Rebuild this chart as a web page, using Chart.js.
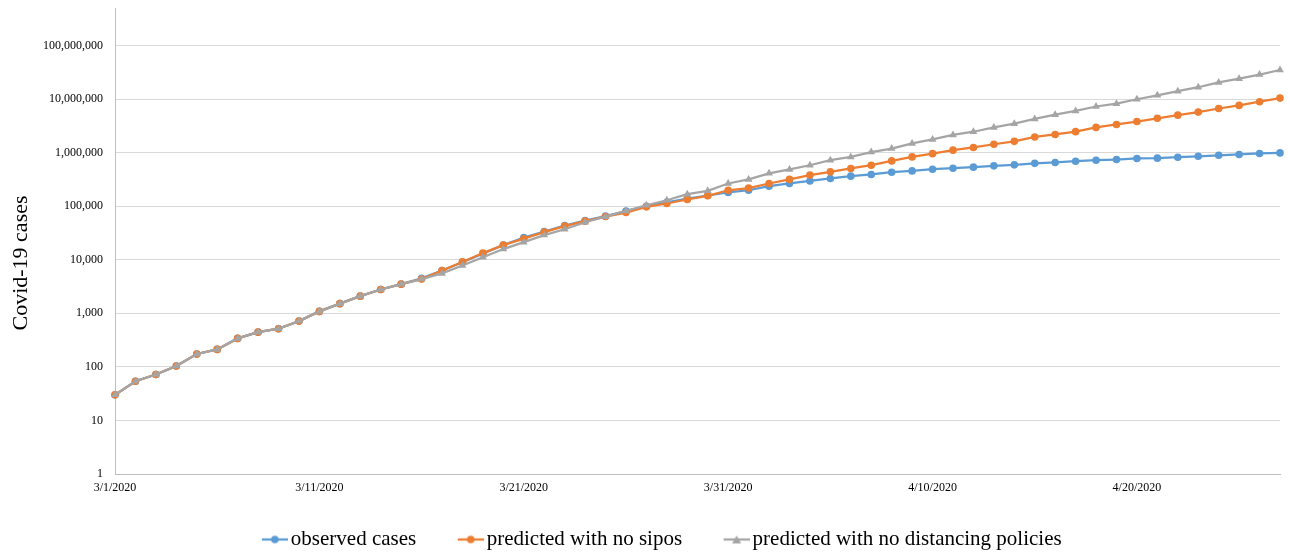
<!DOCTYPE html>
<html>
<head>
<meta charset="utf-8">
<script src="https://cdn.jsdelivr.net/npm/chart.js@4/dist/chart.umd.min.js"></script>
<style>
  html, body { margin: 0; padding: 0; background: #fff; }
  #wrap { width: 1289px; height: 552px; position: relative; }
</style>
</head>
<body>
<div id="wrap"><canvas id="casesChart"></canvas></div>
<script>
const dates = [
  '3/1/2020', '3/2/2020', '3/3/2020', '3/4/2020', '3/5/2020', '3/6/2020', '3/7/2020', '3/8/2020', '3/9/2020', '3/10/2020',
  '3/11/2020', '3/12/2020', '3/13/2020', '3/14/2020', '3/15/2020', '3/16/2020', '3/17/2020', '3/18/2020', '3/19/2020', '3/20/2020',
  '3/21/2020', '3/22/2020', '3/23/2020', '3/24/2020', '3/25/2020', '3/26/2020', '3/27/2020', '3/28/2020', '3/29/2020', '3/30/2020',
  '3/31/2020', '4/1/2020', '4/2/2020', '4/3/2020', '4/4/2020', '4/5/2020', '4/6/2020', '4/7/2020', '4/8/2020', '4/9/2020',
  '4/10/2020', '4/11/2020', '4/12/2020', '4/13/2020', '4/14/2020', '4/15/2020', '4/16/2020', '4/17/2020', '4/18/2020', '4/19/2020',
  '4/20/2020', '4/21/2020', '4/22/2020', '4/23/2020', '4/24/2020', '4/25/2020', '4/26/2020', '4/27/2020'
];

const observed = [
  30, 54, 72, 104, 174, 212, 340, 445, 515, 715,
  1085, 1515, 2090, 2785, 3500, 4500, 6300, 9000, 13000, 18800,
  25800, 33500, 43500, 53800, 65000, 81000, 99000, 118000, 138000, 158000,
  180000, 198000, 236000, 265000, 295000, 329000, 363000, 390000, 430000, 455000,
  490000, 510000, 535000, 565000, 590000, 630000, 653000, 690000, 721000, 742000,
  777000, 787000, 820000, 853000, 890000, 922000, 962000, 986000
];

const noSipo = [
  30, 54, 72, 104, 174, 212, 340, 445, 515, 715,
  1085, 1515, 2090, 2785, 3500, 4350, 6300, 9100, 13300, 18700,
  24700, 32700, 42400, 52500, 64000, 76000, 97000, 112000, 133000, 156000,
  198000, 218000, 265000, 316000, 380000, 437000, 505000, 582000, 700000, 830000,
  955000, 1110000, 1245000, 1430000, 1620000, 1960000, 2180000, 2460000, 2950000, 3350000,
  3800000, 4370000, 5000000, 5700000, 6650000, 7600000, 8900000, 10400000
];

const noDistancing = [
  30, 54, 72, 104, 174, 212, 340, 445, 515, 715,
  1085, 1515, 2090, 2785, 3500, 4350, 5550, 7800, 11100, 15800,
  21300, 28800, 37000, 50000, 63600, 81600, 104000, 129000, 167000, 193000,
  265000, 316000, 410000, 484000, 580000, 720000, 830000, 1020000, 1190000, 1480000,
  1760000, 2140000, 2450000, 2950000, 3470000, 4250000, 5100000, 6000000, 7250000, 8200000,
  9900000, 11700000, 14000000, 16600000, 20400000, 24000000, 28600000, 34800000
];

const yTicks = [1, 10, 100, 1000, 10000, 100000, 1000000, 10000000, 100000000];

const serif = "'Liberation Serif', 'Times New Roman', serif";
const yTitle = 'Covid-19 cases';

// line-with-marker swatch for the legend; the swatch sits at the right
// edge of a wider transparent image so it ends just before the label text
function legendSwatch(color, style) {
  const c = document.createElement('canvas');
  c.width = 73;
  c.height = 12;
  const g = c.getContext('2d');
  const x0 = c.width - 26;
  g.strokeStyle = color;
  g.lineWidth = 2.25;
  g.beginPath();
  g.moveTo(x0, 6);
  g.lineTo(x0 + 26, 6);
  g.stroke();
  g.fillStyle = color;
  g.beginPath();
  if (style === 'triangle') {
    g.moveTo(x0 + 13, 2);
    g.lineTo(x0 + 17.5, 10);
    g.lineTo(x0 + 8.5, 10);
    g.closePath();
  } else {
    g.arc(x0 + 13, 6, 3.8, 0, Math.PI * 2);
  }
  g.fill();
  return c;
}

const series = [
  { label: 'observed cases', data: observed, color: '#5B9BD5', marker: 'circle', order: 2 },
  { label: 'predicted with no sipos', data: noSipo, color: '#ED7D31', marker: 'circle', order: 1 },
  { label: 'predicted with no distancing policies', data: noDistancing, color: '#A5A5A5', marker: 'triangle', order: 0 }
];

// vertical axis title, placed by hand
const yTitlePlugin = {
  id: 'yTitle',
  afterDraw(chart) {
    const ctx = chart.ctx;
    ctx.save();
    ctx.translate(21, 263);
    ctx.rotate(-Math.PI / 2);
    ctx.font = '22px ' + serif;
    ctx.fillStyle = '#000';
    ctx.textAlign = 'center';
    ctx.textBaseline = 'middle';
    ctx.fillText(yTitle, 0, 0);
    ctx.restore();
  }
};

new Chart(document.getElementById('casesChart'), {
  type: 'line',
  data: {
    labels: dates,
    datasets: series.map(s => ({
      label: s.label,
      data: s.data,
      order: s.order,
      borderColor: s.color,
      backgroundColor: s.color,
      borderWidth: 2.25,
      pointStyle: s.marker,
      pointRadius: s.marker === 'triangle' ? 4.5 : 3.8,
      pointBorderWidth: 0,
      pointBackgroundColor: s.color,
      tension: 0,
      fill: false
    }))
  },
  plugins: [yTitlePlugin],
  options: {
    responsive: true,
    maintainAspectRatio: false,
    animation: false,
    layout: {
      autoPadding: false,
      padding: { top: 8, right: 9, left: 4, bottom: -8 }
    },
    plugins: {
      tooltip: { enabled: false },
      legend: {
        display: true,
        position: 'bottom',
        labels: {
          font: { family: serif, size: 21 },
          color: '#000',
          usePointStyle: true,
          pointStyleWidth: 58,
          padding: 2,
          sort: (a, b) => a.datasetIndex - b.datasetIndex,
          generateLabels: chart => {
            const items = Chart.defaults.plugins.legend.labels.generateLabels(chart);
            items.forEach(it => {
              const s = series[it.datasetIndex];
              it.pointStyle = legendSwatch(s.color, s.marker);
            });
            return items;
          }
        }
      }
    },
    scales: {
      x: {
        offset: false,
        grid: { display: false, drawTicks: false },
        border: { color: '#BFBFBF', width: 1 },
        ticks: {
          autoSkip: false,
          maxRotation: 0,
          minRotation: 0,
          padding: 7,
          color: '#000',
          font: { family: serif, size: 12 },
          callback: (v, i) => (i % 10 === 0 ? dates[i] : '')
        },
        afterFit: s => { s.height = 53; }
      },
      y: {
        type: 'logarithmic',
        min: 1,
        max: 500000000,
        afterBuildTicks: s => { s.ticks = yTicks.map(v => ({ value: v })); },
        afterFit: s => {
          s.width = 111;
          s.paddingTop = 0;
          s.paddingBottom = 0;
        },
        grid: { color: '#D9D9D9', lineWidth: 1, drawTicks: false },
        border: { color: '#BFBFBF', width: 1 },
        ticks: {
          padding: 12,
          color: '#000',
          font: { family: serif, size: 12 },
          callback: v => Number(v).toLocaleString('en-US')
        }
      }
    }
  }
});
</script>
</body>
</html>
